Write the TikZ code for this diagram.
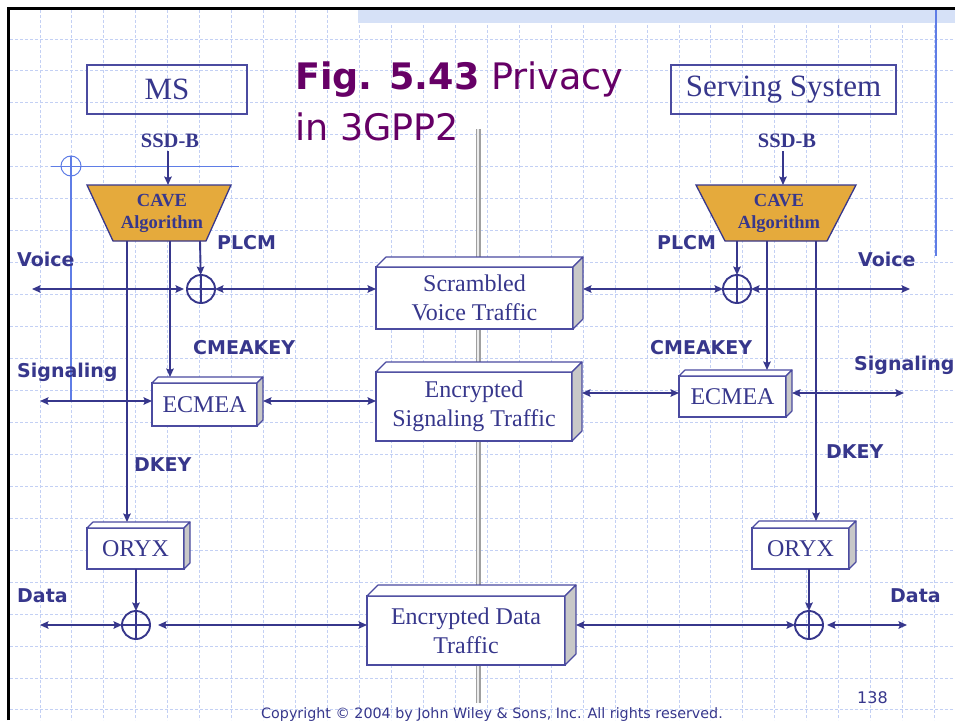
\documentclass[tikz,border=0pt]{standalone}
\usepackage{fontspec}
\setmainfont{Liberation Serif}
\newfontfamily\labfont{DejaVu Sans}
\usetikzlibrary{arrows.meta}
\definecolor{ink}{RGB}{55,55,140}
\definecolor{boxline}{RGB}{75,75,160}
\definecolor{gridc}{RGB}{195,208,244}
\definecolor{cave}{RGB}{229,170,60}
\definecolor{titlec}{RGB}{102,0,102}
\definecolor{slideblue}{RGB}{95,125,230}
\definecolor{band}{RGB}{214,225,247}
\definecolor{sidegray}{RGB}{200,200,200}
\newcommand\threedfaces[2]{%
  \filldraw[fill=white, draw=boxline, line width=1.1pt, line join=round]
    (#1.north west) -- ([shift={(#2pt,#2pt)}]#1.north west) -- ([shift={(#2pt,#2pt)}]#1.north east) -- (#1.north east) -- cycle;
  \filldraw[fill=sidegray, draw=boxline, line width=1.1pt, line join=round]
    (#1.north east) -- ([shift={(#2pt,#2pt)}]#1.north east) -- ([shift={(#2pt,#2pt)}]#1.south east) -- (#1.south east) -- cycle;}
\begin{document}
\begin{tikzpicture}[x=1pt,y=-1pt,
  tip/.tip={Stealth[length=8.5pt,width=7.5pt,inset=1.5pt]},
  arr/.style={draw=ink, line width=1.9pt, -tip},
  darr/.style={draw=ink, line width=1.9pt, tip-tip},
  gridline/.style={draw=gridc, line width=0.9pt, dash pattern=on 3pt off 2pt},
  lab/.style={font=\labfont\bfseries\fontsize{19}{22}\selectfont, text=ink, inner sep=0pt, anchor=base west},
  titlebox/.style={draw=boxline, line width=1.1pt, text=ink, font=\fontsize{31}{36}\selectfont, minimum height=49pt, inner sep=0pt},
  fbox/.style={draw=boxline, fill=white, line width=1.1pt, text=ink, align=center, inner sep=0pt, outer sep=0pt, font=\fontsize{24}{29}\selectfont},
  xor/.style={circle, draw=ink, line width=1.9pt, minimum size=28pt, inner sep=0pt, outer sep=0pt,
    path picture={\draw[ink, line width=1.9pt] (path picture bounding box.north) -- (path picture bounding box.south)
      (path picture bounding box.west) -- (path picture bounding box.east);}},
  cavetext/.style={font=\bfseries\fontsize{18.5}{22}\selectfont, text=ink, align=center, inner sep=0pt},
  ssd/.style={font=\bfseries\fontsize{20.5}{24}\selectfont, text=ink, anchor=base, inner sep=2pt}]
\useasboundingbox (0,0) rectangle (955,720);
\fill[white] (0,0) rectangle (955,720);
% grid
\foreach \k in {1,...,29} \draw[gridline] ({8+31.95*\k},10) -- ({8+31.95*\k},720);
\foreach \k in {1,...,22} \draw[gridline] (10,{7+31.95*\k}) -- (955,{7+31.95*\k});
% band and frame
\fill[band] (358,10) rectangle (955,23);
\draw[black, line width=2.7pt] (8.5,720) -- (8.5,8.5) -- (955,8.5);
\draw[slideblue, line width=1.5pt] (936,10) -- (936,256);
\draw[slideblue, line width=1.3pt] (71,156) -- (71,400);
\draw[slideblue, line width=1pt] (51,166) -- (239,166);
\draw[slideblue, line width=1pt] (71,166) circle[radius=10];
% middle divider
\draw[gray!75, line width=5pt] (478,129) -- (478,703);
\draw[gray!15, line width=1.6pt] (478,129) -- (478,703);
% title
\node[anchor=base west, font=\labfont\fontsize{36.5}{44}\selectfont, text=titlec, inner sep=0pt] (title1) at (295,89) {\textbf{Fig. 5.43} Privacy};
\node[anchor=base west, font=\labfont\fontsize{36.5}{44}\selectfont, text=titlec, inner sep=0pt] (title2) at (295,140) {in 3GPP2};
% MS / Serving System
\node[titlebox, minimum width=160pt] (ms) at (167,89.5) {MS};
\node[titlebox, minimum width=225pt] (ss) at (783.5,89.5) {Serving System};
% SSD-B
\node[ssd] (ssdL) at (170,147) {SSD-B};
\node[ssd] (ssdR) at (787,147) {SSD-B};
% CAVE trapezoids
\filldraw[fill=cave, draw=ink, line width=1.3pt, line join=miter] (87,185) -- (231,185) -- (206,241) -- (113,241) -- cycle;
\filldraw[fill=cave, draw=ink, line width=1.3pt, line join=miter] (696,185) -- (856,185) -- (827,241) -- (725,241) -- cycle;
\node[cavetext] (cavL) at (162,213) {CAVE\\Algorithm};
\node[cavetext] (cavR) at (779,213) {CAVE\\Algorithm};
\coordinate (tL) at (168,185);
\coordinate (tR) at (783,185);
\draw[arr, shorten <=2pt] (tL |- ssdL.south) -- (tL);
\draw[arr, shorten <=2pt] (tR |- ssdR.south) -- (tR);
\coordinate (cL1) at (127,241);
\coordinate (cL2) at (170,241);
\coordinate (cL3) at (200,241);
\coordinate (cR1) at (737,241);
\coordinate (cR2) at (767,241);
\coordinate (cR3) at (816,241);
% 3D boxes
\node[fbox, minimum width=197pt, minimum height=62pt] (scr) at (474.5,298) {Scrambled\\Voice Traffic};
\threedfaces{scr}{10}
\node[fbox, minimum width=196pt, minimum height=69pt] (encsig) at (474,406.5) {Encrypted\\Signaling Traffic};
\threedfaces{encsig}{10}
\node[fbox, minimum width=198pt, minimum height=69pt] (encdata) at (466,630.5) {Encrypted Data\\Traffic};
\threedfaces{encdata}{11}
\node[fbox, minimum width=105pt, minimum height=43pt] (ecL) at (204.5,404.5) {ECMEA};
\threedfaces{ecL}{6}
\node[fbox, minimum width=107pt, minimum height=41pt] (ecR) at (732.5,396.5) {ECMEA};
\threedfaces{ecR}{6}
\node[fbox, minimum width=97pt, minimum height=41pt] (oryxL) at (135.5,548.5) {ORYX};
\threedfaces{oryxL}{6}
\node[fbox, minimum width=97pt, minimum height=41pt] (oryxR) at (800.5,548.5) {ORYX};
\threedfaces{oryxR}{7}
\coordinate (scrE) at ([xshift=10pt]scr.east);
\coordinate (encsigE) at ([xshift=10pt]encsig.east);
\coordinate (encdataE) at ([xshift=11pt]encdata.east);
\coordinate (ecLE) at ([xshift=6pt]ecL.east);
\coordinate (ecRE) at ([xshift=6pt]ecR.east);
\coordinate (ecLT) at ([yshift=6pt]ecL.north);
\coordinate (ecRT) at ([yshift=6pt]ecR.north);
\coordinate (oryxLT) at ([yshift=6pt]oryxL.north);
\coordinate (oryxRT) at ([yshift=7pt]oryxR.north);
% XOR circles
\node[xor] (xorL) at (201,289) {};
\node[xor] (xorR) at (737,289) {};
\node[xor] (xorDL) at (136,625) {};
\node[xor] (xorDR) at (809,625) {};
% free ends
\coordinate (vL) at (32,289);
\coordinate (vR) at (910,289);
\coordinate (sL) at (40,401);
\coordinate (sR) at (904,393);
\coordinate (dL) at (40,625);
\coordinate (dR) at (907,625);
% vertical key lines
\draw[arr] (cL3) -- (xorL);
\draw[arr] (cL2) -- (cL2 |- ecLT);
\draw[arr] (cL1) -- (cL1 |- oryxLT);
\draw[arr] (cR1) -- (xorR);
\draw[arr] (cR2) -- (cR2 |- ecRT);
\draw[arr] (cR3) -- (cR3 |- oryxRT);
\draw[arr] (oryxL.south -| xorDL) -- (xorDL);
\draw[arr] (oryxR.south -| xorDR) -- (xorDR);
% horizontal traffic lines
\draw[darr, shorten >=3pt] (vL) -- (xorL);
\draw[darr] (xorL) -- (scr.west |- xorL);
\draw[darr] (scrE |- xorR) -- (xorR);
\draw[darr] (xorR) -- (vR);
\draw[darr] (sL) -- (ecL.west |- sL);
\draw[darr] (ecLE |- sL) -- (encsig.west |- sL);
\draw[darr] (encsigE |- sR) -- (ecR.west |- sR);
\draw[darr] (ecRE |- sR) -- (sR);
\draw[darr] (dL) -- (xorDL);
\draw[darr, shorten <=8pt] (xorDL) -- (encdata.west |- xorDL);
\draw[darr] (encdataE |- xorDR) -- (xorDR);
\draw[darr, shorten <=4pt] (xorDR) -- (dR);
% labels
\node[lab] (lvoiceL) at (17,266) {Voice};
\node[lab] (lsigL) at (17,377) {Signaling};
\node[lab] (ldataL) at (17,602) {Data};
\node[lab] (lplcmL) at (217,249) {PLCM};
\node[lab] (lcmeaL) at (193,354) {CMEAKEY};
\node[lab] (ldkeyL) at (134,471) {DKEY};
\node[lab] (lvoiceR) at (858,266) {Voice};
\node[lab] (lsigR) at (854,370) {Signaling};
\node[lab] (ldataR) at (890,602) {Data};
\node[lab] (lplcmR) at (657,249) {PLCM};
\node[lab] (lcmeaR) at (650,354) {CMEAKEY};
\node[lab] (ldkeyR) at (826,458) {DKEY};
% footer
\node[font=\labfont\fontsize{16}{18}\selectfont, text=ink, anchor=base west, inner sep=0pt] (page) at (857,703) {138};
\node[font=\labfont\fontsize{14.3}{16}\selectfont, text=ink, anchor=base, inner sep=0pt] (copy) at (492,718) {Copyright © 2004 by John Wiley \& Sons, Inc. All rights reserved.};
\end{tikzpicture}
\end{document}
